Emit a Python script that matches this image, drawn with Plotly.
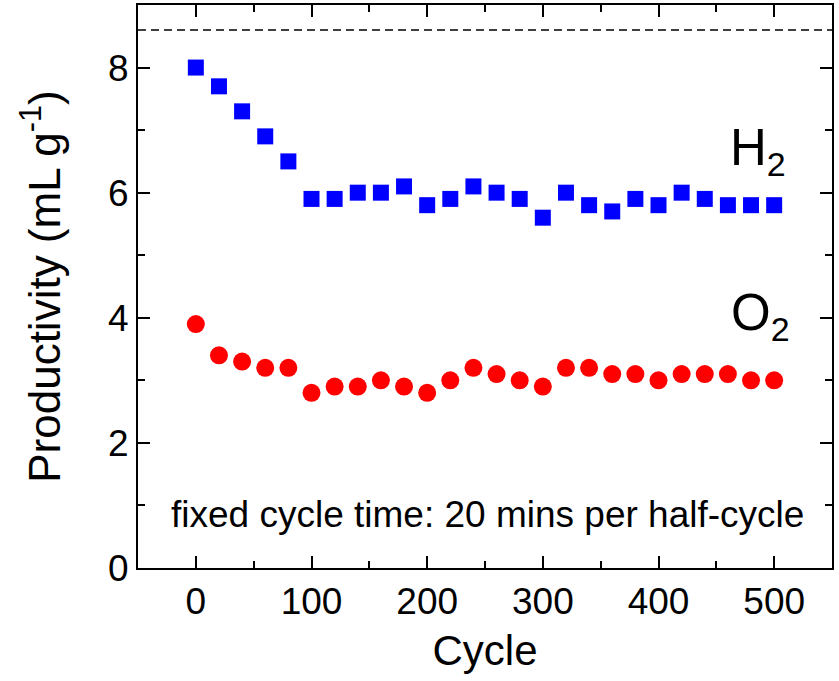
import plotly.graph_objects as go

# Cycle number for each measurement (every 20 cycles)
cycles = [0, 20, 40, 60, 80, 100, 120, 140, 160, 180, 200, 220, 240,
          260, 280, 300, 320, 340, 360, 380, 400, 420, 440, 460, 480, 500]

# Gas productivity per half-cycle (mL g^-1)
h2_productivity = [8.0, 7.7, 7.3, 6.9, 6.5, 5.9, 5.9, 6.0, 6.0, 6.1, 5.8, 5.9, 6.1,
                   6.0, 5.9, 5.6, 6.0, 5.8, 5.7, 5.9, 5.8, 6.0, 5.9, 5.8, 5.8, 5.8]
o2_productivity = [3.9, 3.4, 3.3, 3.2, 3.2, 2.8, 2.9, 2.9, 3.0, 2.9, 2.8, 3.0, 3.2,
                   3.1, 3.0, 2.9, 3.2, 3.2, 3.1, 3.1, 3.0, 3.1, 3.1, 3.1, 3.0, 3.0]

# Reference level drawn as a dashed line
reference_level = 8.6

x_ticks = [0, 100, 200, 300, 400, 500]
y_ticks = [0, 2, 4, 6, 8]

FONT = "Arial, 'Liberation Sans', sans-serif"

fig = go.Figure()

fig.add_trace(go.Scatter(
    x=cycles, y=h2_productivity, mode="markers", name="H2",
    marker=dict(symbol="square", size=16, color="#0000ff", line=dict(width=0)),
))
fig.add_trace(go.Scatter(
    x=cycles, y=o2_productivity, mode="markers", name="O2",
    marker=dict(symbol="circle", size=18, color="#ff0000", line=dict(width=0)),
))

fig.add_shape(
    type="line", xref="paper", yref="y", x0=0, x1=1,
    y0=reference_level, y1=reference_level,
    line=dict(color="black", width=1.5, dash="8px,5px"),
)

fig.add_annotation(
    x=460, y=6.66, xref="x", yref="y", xanchor="left", yanchor="middle",
    text="H<sub><span style='font-size:34px'>2</span></sub>",
    showarrow=False, font=dict(family=FONT, size=51, color="black"),
)
fig.add_annotation(
    x=461, y=4.03, xref="x", yref="y", xanchor="left", yanchor="middle",
    text="O<sub><span style='font-size:34px'>2</span></sub>",
    showarrow=False, font=dict(family=FONT, size=51, color="black"),
)
fig.add_annotation(
    x=-23, y=0.86, xref="x", yref="y", xanchor="left", yanchor="middle",
    text="fixed cycle time: 20 mins per half-cycle",
    showarrow=False, font=dict(family=FONT, size=37, color="black"),
)

axis_common = dict(
    showline=True, linecolor="black", linewidth=2, mirror="allticks",
    ticks="inside", ticklen=12, tickwidth=2, tickcolor="black",
    showgrid=False, zeroline=False,
    tickfont=dict(family=FONT, size=37, color="black"),
)

fig.update_xaxes(
    **axis_common, range=[-50, 550], tickvals=x_ticks,
    minor=dict(dtick=50, tick0=0, ticks="inside", ticklen=7, tickwidth=2,
               tickcolor="black", showgrid=False),
    title=dict(text="Cycle", font=dict(family=FONT, size=42, color="black"),
               standoff=14),
)
fig.update_yaxes(
    **axis_common, range=[0, 9], tickvals=y_ticks,
    minor=dict(dtick=1, tick0=0, ticks="inside", ticklen=7, tickwidth=2,
               tickcolor="black", showgrid=False),
    title=dict(text="Productivity (mL g<sup>-1</sup>)",
               font=dict(family=FONT, size=44, color="black"), standoff=34),
)

fig.update_layout(
    width=839, height=681,
    margin=dict(l=138, r=7, t=5, b=113, autoexpand=False),
    plot_bgcolor="white", paper_bgcolor="white",
    showlegend=False,
)

fig.write_html("out.html")
